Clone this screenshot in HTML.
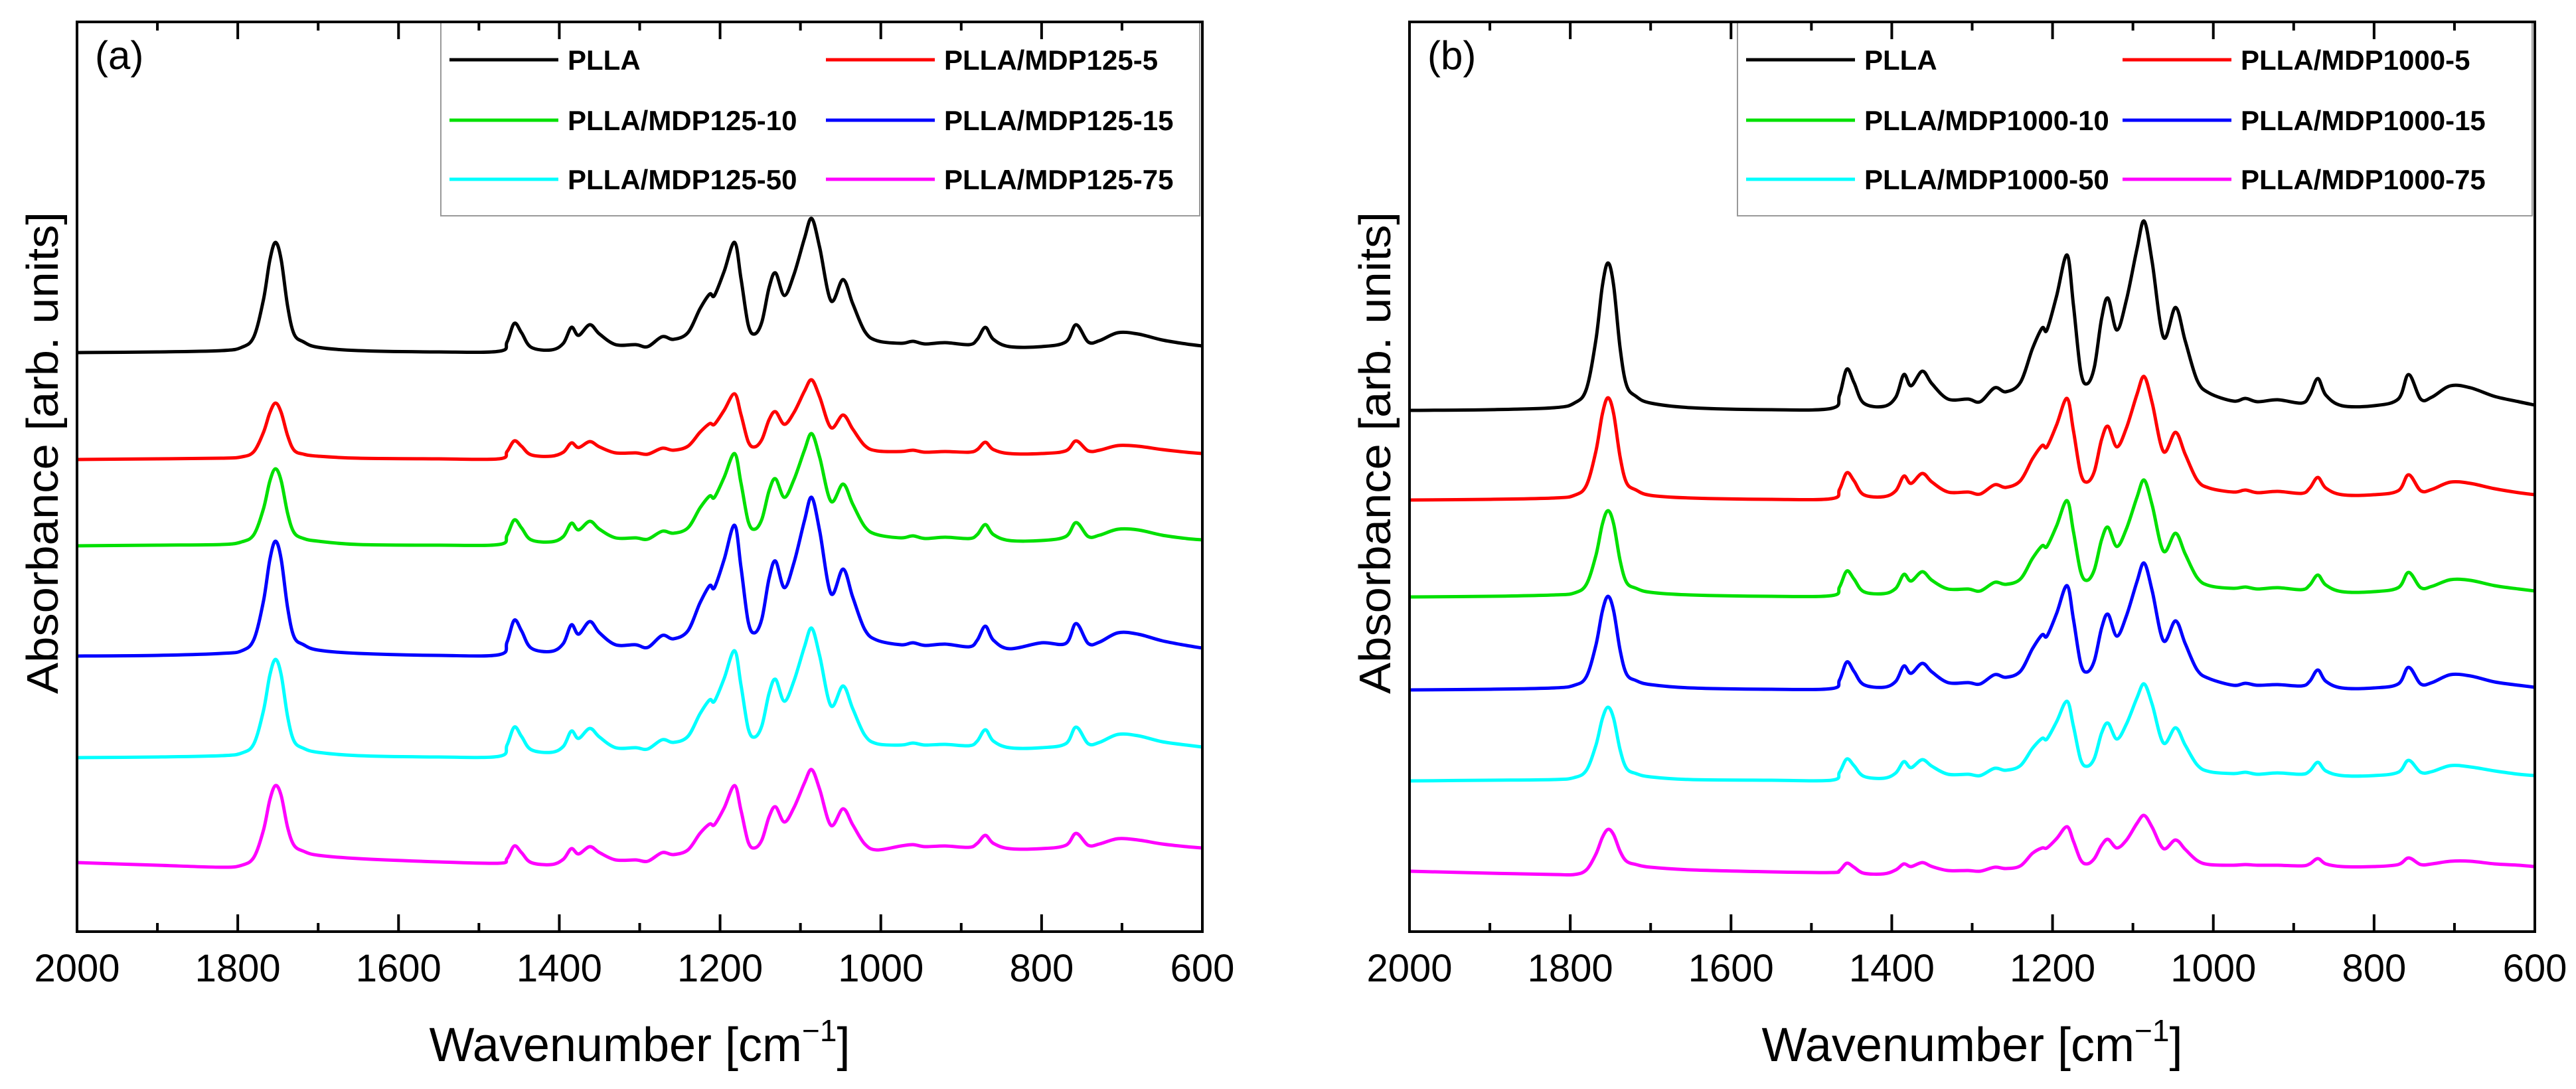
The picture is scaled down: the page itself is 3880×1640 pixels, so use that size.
<!DOCTYPE html>
<html>
<head>
<meta charset="utf-8">
<style>
html,body{margin:0;padding:0;background:#fff;}
svg{display:block;}
text{font-family:"Liberation Sans",Arial,sans-serif;fill:#000;}
</style>
</head>
<body>
<svg id="fig" width="3880" height="1640" viewBox="0 0 3880 1640" xmlns="http://www.w3.org/2000/svg">
<rect width="3880" height="1640" fill="#fff"/>
</svg>
<script>
// ---- data ----
const wavenumbers = [2000,1900,1820,1795,1780,1768,1760,1753,1746,1738,1730,1718,1700,1650,1550,1475,1465,1456,1447,1435,1410,1395,1385,1376,1362,1350,1330,1305,1290,1272,1258,1240,1225,1213,1207,1195,1182,1174,1165,1157,1148,1139,1131,1120,1108,1095,1086,1076,1062,1047,1035,1020,1005,975,960,945,920,890,880,870,860,840,800,770,757,742,728,705,680,650,620,600];
const xTicks = [2000,1800,1600,1400,1200,1000,800,600];
const xMinorTicks = [1900,1700,1500,1300,1100,900,700];
const colors = ["#000000","#ff0000","#00e000","#0000ff","#00ffff","#ff00ff"];
const labelsA = ["PLLA","PLLA/MDP125-5","PLLA/MDP125-10","PLLA/MDP125-15","PLLA/MDP125-50","PLLA/MDP125-75"];
const labelsB = ["PLLA","PLLA/MDP1000-5","PLLA/MDP1000-10","PLLA/MDP1000-15","PLLA/MDP1000-50","PLLA/MDP1000-75"];

// panel (a) series (absorbance, arb. units, offset-stacked)
const aPLLA = [872,873,875,880,896,952,1012,1038,1012,942,900,888,880,875,873,874,888,916,902,880,876,886,910,898,914,900,884,884,881,896,892,902,938,960,958,994,1038,984,914,900,918,970,992,958,990,1044,1074,1030,950,982,946,904,890,886,889,885,887,884,892,910,892,881,881,888,914,888,890,902,900,891,885,882];
const aMDP5 = [711,712,713,715,723,752,782,796,782,747,725,719,716,713,712,712,723,739,731,718,716,722,736,729,738,730,721,721,719,728,725,731,752,765,764,785,810,779,738,730,741,771,783,764,782,814,831,805,759,778,757,732,724,723,725,722,723,722,726,737,726,720,720,724,739,724,725,732,731,726,722,720];
const aMDP10 = [581,582,583,587,598,637,679,697,679,630,601,592,588,583,582,583,597,620,608,590,587,595,615,605,618,606,593,593,591,603,600,608,638,656,654,684,720,676,618,606,621,664,682,654,681,725,750,714,648,674,644,610,598,593,596,592,594,592,598,613,598,589,589,595,616,595,597,606,605,597,592,590];
const aMDP15 = [415,416,419,423,440,498,561,588,561,488,444,432,424,419,416,417,436,469,453,427,422,434,462,448,467,450,432,432,428,446,441,453,495,521,518,560,612,549,467,450,471,532,558,518,556,619,654,603,509,546,504,455,439,432,435,431,433,429,439,460,439,426,435,434,464,434,436,450,448,438,431,427];
const aMDP50 = [262,263,265,269,283,333,387,410,387,324,287,276,270,265,263,264,281,308,294,274,270,279,302,291,306,293,277,277,275,289,285,294,328,349,347,381,423,372,306,293,310,359,380,347,378,429,457,415,340,370,336,296,283,281,284,281,282,280,287,304,287,277,277,283,308,283,285,297,295,286,281,278];
const aMDP75 = [104,100,97,100,112,153,199,220,205,157,130,121,115,110,105,103,110,129,119,104,101,109,125,117,128,119,108,108,106,119,116,123,148,162,161,186,220,183,135,126,138,173,188,165,187,224,244,214,160,185,161,132,123,129,131,128,129,127,133,145,133,125,125,130,148,130,132,140,138,132,128,126];

// panel (b) series
const bPLLA = [785,786,789,796,817,892,973,1007,973,879,823,806,796,789,786,788,808,847,827,796,791,805,839,822,844,825,802,802,798,819,813,827,878,909,906,957,1019,943,844,825,850,923,954,906,952,1028,1070,1008,895,940,890,830,811,799,803,798,801,796,808,833,808,792,792,802,839,802,805,822,819,806,798,793];
const bMDP5 = [650,651,653,657,672,724,780,804,780,715,676,665,657,653,651,652,666,691,679,658,655,664,686,675,690,677,662,662,659,673,669,679,712,732,730,763,803,754,690,677,693,741,761,730,759,809,836,796,723,752,719,680,668,662,665,661,663,660,668,684,668,658,658,664,688,664,666,677,675,667,661,658];
const bMDP10 = [504,505,507,510,523,567,614,634,614,559,526,517,511,507,505,506,519,543,531,512,509,517,538,528,542,529,516,516,513,526,523,531,562,581,580,611,649,602,542,529,545,590,609,580,607,654,680,642,573,600,569,533,521,517,519,516,518,515,522,537,522,512,512,518,541,518,520,530,529,521,516,513];
const bMDP15 = [364,365,367,371,384,432,483,505,483,424,388,378,372,367,365,366,379,406,392,372,368,377,400,389,404,391,375,375,373,387,383,392,426,447,445,479,521,470,404,391,408,457,478,445,476,527,555,513,438,468,434,394,381,371,374,371,372,370,377,394,377,367,367,373,398,373,375,387,385,376,371,368];
const bMDP50 = [227,228,229,232,243,281,321,338,321,274,246,238,233,229,228,228,240,260,250,234,231,239,256,247,259,249,237,237,235,246,243,250,276,291,290,316,347,309,259,249,261,299,314,290,313,352,373,342,284,307,281,251,241,238,240,237,239,237,242,255,242,235,235,240,258,240,241,250,248,242,237,235];
const bMDP75 = [91,88,86,86,93,117,142,154,146,121,106,101,97,93,90,89,92,103,97,88,87,93,102,98,104,98,92,92,91,97,95,99,118,126,126,140,158,136,108,102,110,130,139,126,138,163,175,157,125,138,124,107,101,100,101,100,100,99,102,110,102,98,98,101,111,101,102,106,106,102,100,98];

const seriesA = [aPLLA,aMDP5,aMDP10,aMDP15,aMDP50,aMDP75];
const seriesB = [bPLLA,bMDP5,bMDP10,bMDP15,bMDP50,bMDP75];

// ---- drawing ----
const NS = "http://www.w3.org/2000/svg";
const svg = document.getElementById("fig");
const TOP = 33, BOTTOM = 1403, WIDTH = 1695;
const Y_MAX = 1370;

function mk(tag, attrs, parent){
  const e = document.createElementNS(NS, tag);
  for (const k in attrs) e.setAttribute(k, attrs[k]);
  (parent || svg).appendChild(e);
  return e;
}
function smoothPath(pts){
  let d = "M" + pts[0][0].toFixed(1) + "," + pts[0][1].toFixed(1);
  for (let i = 0; i < pts.length - 1; i++){
    const p0 = pts[Math.max(0,i-1)], p1 = pts[i], p2 = pts[i+1], p3 = pts[Math.min(pts.length-1,i+2)];
    const c1x = p1[0] + (p2[0]-p0[0])/6, c1y = p1[1] + (p2[1]-p0[1])/6;
    const c2x = p2[0] - (p3[0]-p1[0])/6, c2y = p2[1] - (p3[1]-p1[1])/6;
    d += " C" + c1x.toFixed(1) + "," + c1y.toFixed(1) + " " + c2x.toFixed(1) + "," + c2y.toFixed(1) + " " + p2[0].toFixed(1) + "," + p2[1].toFixed(1);
  }
  return d;
}

function drawPanel(id, left, tag, series, labels, legLeft){
  const g = mk("g", {});
  
  
  const xs = w => left + (2000 - w) / 1400 * WIDTH;
  const ys = v => BOTTOM - v / Y_MAX * (BOTTOM - TOP);

  // series
  series.forEach((arr, si) => {
    const pts = arr.map((v, i) => [xs(wavenumbers[i]), ys(v)]);
    const p = mk("path", {d: smoothPath(pts), fill: "none", stroke: colors[si], "stroke-width": 5, "stroke-linejoin": "round"}, g);
    
    
  });

  // legend
  const lg = mk("g", {}, g);
  
  
  const legRight = left + WIDTH - 4;
  mk("rect", {x: legLeft, y: TOP, width: legRight - legLeft, height: 325 - TOP, fill: "#fff", stroke: "#999", "stroke-width": 2}, lg);
  const rowsY = [90, 181, 270];
  const colLine = [legLeft + 13, legLeft + 580];
  labels.forEach((lab, i) => {
    const r = Math.floor(i / 2), c = i % 2;
    const ent = mk("g", {}, lg);
    
    
    mk("line", {x1: colLine[c], x2: colLine[c] + 164, y1: rowsY[r], y2: rowsY[r], stroke: colors[i], "stroke-width": 5}, ent);
    const t = mk("text", {x: colLine[c] + 178, y: rowsY[r] + 15, "font-size": 42, "font-weight": "bold"}, ent);
    t.textContent = lab;
  });

  // frame
  const fr = mk("rect", {x: left, y: TOP, width: WIDTH, height: BOTTOM - TOP, fill: "none", stroke: "#000", "stroke-width": 4}, g);
  
  

  // ticks
  xTicks.forEach(w => {
    const x = xs(w);
    mk("line", {x1: x, x2: x, y1: BOTTOM, y2: BOTTOM - 26, stroke: "#000", "stroke-width": 4}, g);
    mk("line", {x1: x, x2: x, y1: TOP, y2: TOP + 26, stroke: "#000", "stroke-width": 4}, g);
    const t = mk("text", {x: x, y: 1478, "font-size": 58, "text-anchor": "middle"}, g);
    
    
    t.textContent = w;
  });
  xMinorTicks.forEach(w => {
    const x = xs(w);
    mk("line", {x1: x, x2: x, y1: BOTTOM, y2: BOTTOM - 13, stroke: "#000", "stroke-width": 4}, g);
    mk("line", {x1: x, x2: x, y1: TOP, y2: TOP + 13, stroke: "#000", "stroke-width": 4}, g);
  });

  // panel tag
  const pt = mk("text", {x: left + 27, y: 104, "font-size": 60}, g);
  
  
  pt.textContent = tag;

  // x title
  const xt = mk("text", {x: left + WIDTH/2, y: 1598, "font-size": 72, "text-anchor": "middle"}, g);
  
  
  xt.innerHTML = 'Wavenumber [cm<tspan font-size="46" dy="-30">\u22121</tspan><tspan dy="30">]</tspan>';

  // y title
  const cx = left - 29, cy = 682;
  const yt = mk("text", {x: cx, y: cy, "font-size": 67, "text-anchor": "middle", transform: "rotate(-90 " + cx + " " + cy + ")", textLength: 726, lengthAdjust: "spacingAndGlyphs"}, g);
  
  
  yt.textContent = "Absorbance [arb. units]";
}

drawPanel("a", 116, "(a)", seriesA, labelsA, 664);
drawPanel("b", 2123, "(b)", seriesB, labelsB, 2617);
</script>
</body>
</html>
